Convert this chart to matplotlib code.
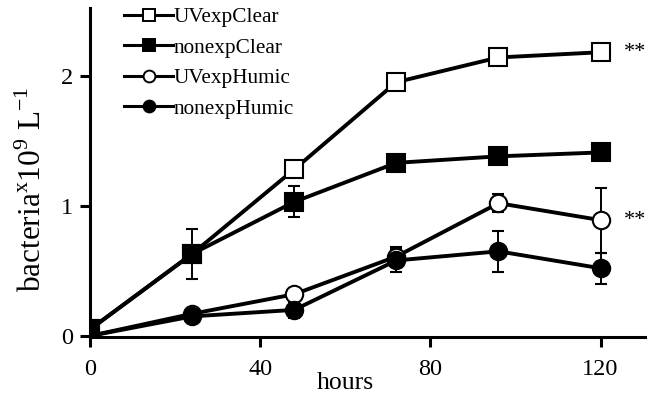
import matplotlib

matplotlib.use("Agg")
import matplotlib.pyplot as plt
from matplotlib.lines import Line2D

hours = [0, 24, 48, 72, 96, 120]

uv_clear = [0.05, 0.63, 1.28, 1.95, 2.14, 2.18]
uv_clear_err = [0.0, 0.02, 0.02, 0.02, 0.02, 0.02]
non_clear = [0.05, 0.63, 1.03, 1.33, 1.38, 1.41]
non_clear_err = [0.0, 0.19, 0.12, 0.0, 0.0, 0.0]
uv_humic = [0.0, 0.17, 0.32, 0.61, 1.02, 0.89]
uv_humic_err = [0.0, 0.0, 0.0, 0.07, 0.07, 0.25]
non_humic = [0.0, 0.15, 0.20, 0.58, 0.65, 0.52]
non_humic_err = [0.0, 0.0, 0.06, 0.09, 0.16, 0.12]

labels = ["UVexpClear", "nonexpClear", "UVexpHumic", "nonexpHumic"]
stars_at = [(120, 2.18), (120, 0.89)]

plt.rcParams.update({
    "font.family": "Liberation Serif", "font.size": 14,
    "axes.linewidth": 2.2,
})

fig = plt.figure(figsize=(6.48, 4.0), dpi=100)
ax = fig.add_axes([0.139, 0.157, 0.856, 0.823])

series = [
    (uv_clear, uv_clear_err, "s", "white"),
    (non_clear, non_clear_err, "s", "black"),
    (uv_humic, uv_humic_err, "o", "white"),
    (non_humic, non_humic_err, "o", "black"),
]
handles = []
for (ys, err, mk, face), lab in zip(series, labels):
    ax.errorbar(hours, ys, yerr=err, fmt="-", marker=mk, color="black", mfc=face, mec="black",
                mew=1.5, ms=12.5, lw=2.8, ecolor="black", elinewidth=1.4, capsize=4.5, capthick=1.4)
    handles.append(Line2D([], [], color="black", lw=2.2, marker=mk, mfc=face, mec="black",
                          mew=1.4, ms=8.5, label=lab))

for x, y in stars_at:
    ax.text(x + 5.6, y, "**", fontsize=16, va="center", ha="left")

ax.set_xlim(0, 130.4)
ax.set_ylim(-0.01, 2.52)
ax.set_xticks([0, 40, 80, 120])
ax.set_yticks([0, 1, 2])
ax.tick_params(direction="out", length=7, width=2.2, labelsize=17.5)
ax.tick_params(axis="x", pad=9)
ax.tick_params(axis="y", pad=5)
for s in ("top", "right"):
    ax.spines[s].set_visible(False)
ax.set_xlabel("hours", fontsize=18.5, labelpad=-7)
ax.xaxis.set_label_coords(0.46, -0.105)
ax.set_ylabel("bacteria$^{\\mathregular{x}}$10$^{\\mathregular{9}}$ L$^{\\mathregular{-1}}$", fontsize=22.5)
ax.yaxis.set_label_coords(-0.076, 0.45)

ax.legend(handles=handles, loc="upper left", bbox_to_anchor=(0.027, 1.06), frameon=False,
          fontsize=15.3, handlelength=2.3, handletextpad=0.0, labelspacing=0.5)

fig.savefig("out.png", dpi=100)
